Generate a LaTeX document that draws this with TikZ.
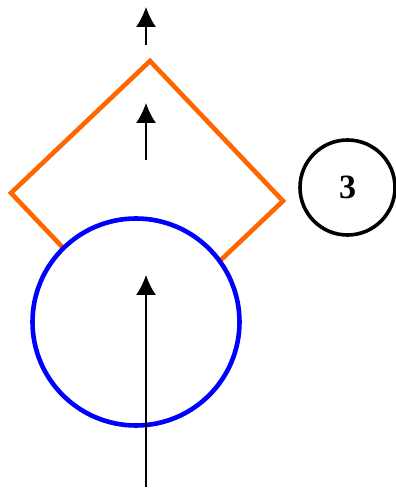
\documentclass[tikz,border=0pt]{standalone}
\usepackage{fontspec}
\setmainfont{Liberation Serif}
\usepackage{tikz}
\usetikzlibrary{arrows.meta,positioning}
\definecolor{kiteorange}{RGB}{255,102,0}

\begin{document}
\begin{tikzpicture}[x=1pt,y=1pt,>={Latex[length=20pt,width=20pt]},line width=1.6pt]
\tikzstyle{kite} = [draw=kiteorange, line width=4.6pt, line join=miter]
\tikzstyle{disc} = [draw=blue, fill=white, shape=circle, line width=4.6pt, minimum size=207pt, inner sep=0pt]
\tikzstyle{tag} = [draw, shape=circle, line width=3.6pt, minimum size=95pt, inner sep=0pt, font=\fontsize{34}{38}\selectfont\bfseries]
\useasboundingbox (0,0) rectangle (396,488);

% Kite
\coordinate (top) at (150,427);
\coordinate (left) at (11,295);
\coordinate (bottom) at (144,155);
\coordinate (right) at (283,287);
\draw[kite] (top) -- (left) -- (bottom) -- (right) -- cycle;

% Disc
\node [disc] at (136,166) (D) {};

% Arrows
\coordinate (in) at (146,1);
\coordinate (intip) at (146,213);
\coordinate (mid) at (146,328);
\coordinate (midtip) at (146,385);
\coordinate (out) at (146,443);
\coordinate (outtip) at (146,481);
\draw[->] (in) -- (intip);
\draw[->] (mid) -- (midtip);
\draw[->] (out) -- (outtip);

% Tag
\node [tag] at (347.5,300.5) (T3) {3};

\end{tikzpicture}
\end{document}
